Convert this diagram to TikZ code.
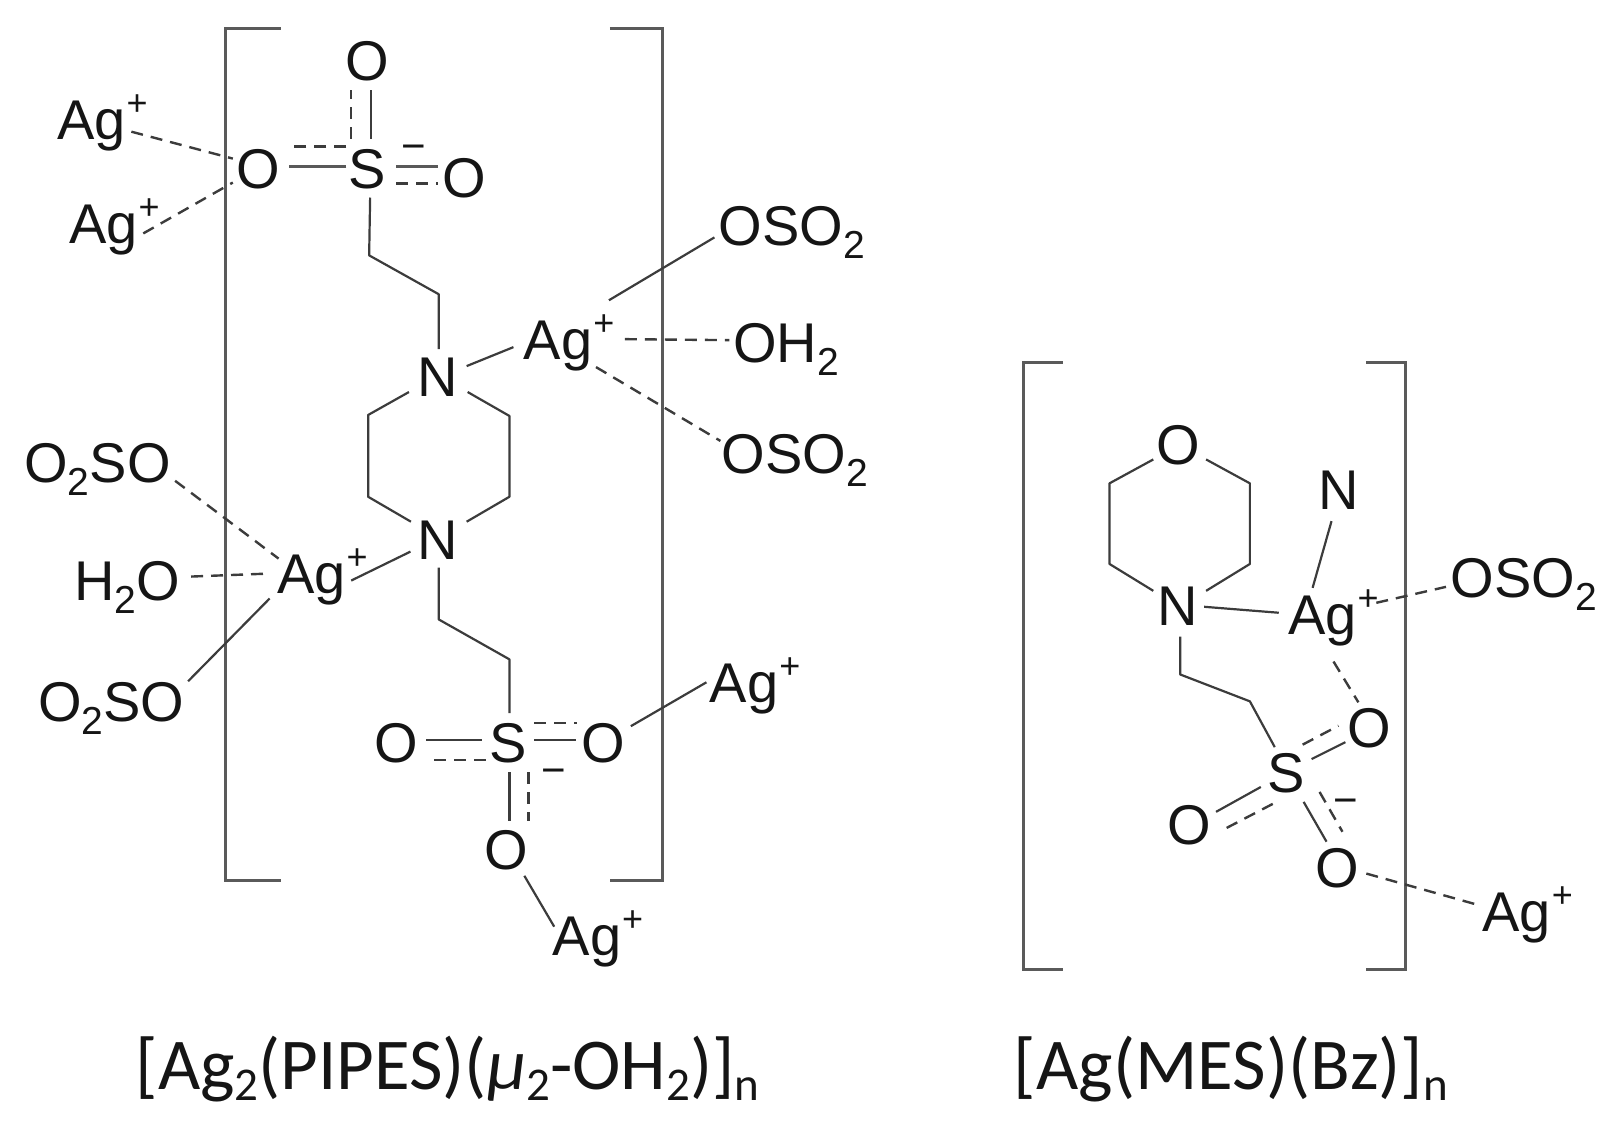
\documentclass[tikz,border=0pt]{standalone}
\usepackage{fontspec}
\usepackage{graphicx}
\setmainfont{Liberation Sans}
\newfontfamily\capfont{Carlito}
\usetikzlibrary{calc}
\definecolor{ink}{HTML}{151515}
\definecolor{bondc}{HTML}{3C3C3C}
\definecolor{brk}{HTML}{5A5A5A}
\newcommand\agp{Ag\kern1pt\raisebox{24pt}{\fontsize{36}{36}\selectfont +}}
\newcommand\sbs{\raisebox{-13pt}{\fontsize{39}{39}\selectfont 2}}
\newcommand\drp{2pt}
\newcommand\bend[3]{([shift={(#2,#3)},yshift=\drp]#1.base)}
\newcommand\bond[7]{\draw[#1] \bend{#2}{#3}{#4} -- \bend{#5}{#6}{#7};}
\newcommand\capsub[1]{\raisebox{-11pt}{\fontsize{47}{47}\selectfont #1}}
\tikzset{
  atom/.style={anchor=base,inner sep=0pt,outer sep=0pt,text=ink,font=\fontsize{56}{60}\selectfont,yshift=-\drp},
  charge/.style={anchor=base,inner sep=0pt,outer sep=0pt,text=ink,font=\fontsize{42}{42}\selectfont},
  caplabel/.style={anchor=base,inner sep=0pt,outer sep=0pt,text=ink,font=\capfont\fontsize{73}{76}\selectfont},
  sb/.style={draw=bondc,line width=2.2pt,line join=round},
  sbthick/.style={draw=bondc!85,line width=3.2pt},
  db/.style={draw=bondc,line width=2.4pt,dash pattern=on 12pt off 8pt},
  bracketline/.style={draw=brk,line width=3pt,line join=miter},
}
\begin{document}
\begin{tikzpicture}[x=1pt,y=-1pt]
\useasboundingbox (0,0) rectangle (1624,1128);
\begin{scope}[x=0.995pt,y=-0.9975pt]
% brackets
\draw[bracketline] (282,29) -- (227,29) -- (227,883) -- (282,883);
\draw[bracketline] (613,29) -- (666,29) -- (666,883) -- (613,883);
% left atoms
\node[atom] (otop) at (369,79) {O};
\node[atom] (oleft) at (260,187) {O};
\node[atom] (stop) at (369,187) {S};
\node[atom] (oright) at (467,196) {O};
\node[atom] (ag1) at (103,138) {\agp};
\node[atom] (ag2) at (115,242) {\agp};
\node[atom] (n1) at (440,395) {N};
\node[atom] (n2) at (440,559) {N};
\node[atom] (ag3) at (572,358) {\agp};
\node[atom] (oso2a) at (796,244) {OSO\sbs};
\node[atom] (oh2) at (790,361) {OH\sbs};
\node[atom] (oso2b) at (799,473) {OSO\sbs};
\node[atom] (o2soa) at (98,482) {O\sbs SO};
\node[atom] (h2o) at (128,600) {H\sbs O};
\node[atom] (o2sob) at (112,721) {O\sbs SO};
\node[atom] (ag4) at (324,593) {\agp};
\node[atom] (slow) at (511,762) {S};
\node[atom] (oleft2) at (398,762) {O};
\node[atom] (oright2) at (606,762) {O};
\node[atom] (obot) at (509,870) {O};
\node[atom] (ag5) at (759,702) {\agp};
\node[atom] (ag6) at (601,956) {\agp};
\node[charge] (m1) at (416,161) {−};
\node[charge] (m2) at (557,786) {−};
% left coordinates
\coordinate (c1) at (371,256);
\coordinate (c2) at (441,295);
\coordinate (c3) at (441,621);
\coordinate (c4) at (512,661);
\coordinate (r1) at (370,416);
\coordinate (r2) at (370,498);
\coordinate (r3) at (512,417);
\coordinate (r4) at (512,498);
% left bonds
\bond{sb}{stop}{4}{-48}{otop}{4}{11}
\bond{db}{stop}{-16}{-48}{otop}{-16}{11}
\bond{sbthick}{stop}{-21}{-20}{oleft}{30}{-20}
\bond{db}{stop}{-21}{-40}{oleft}{30}{-40}
\bond{sbthick}{stop}{29}{-20}{oright}{-27}{-29}
\bond{db}{stop}{29}{-3}{oright}{-27}{-12}
\bond{db}{ag1}{29}{-6}{oleft}{-26}{-28}
\bond{db}{ag2}{29}{-8}{oleft}{-26}{-4}
\draw[sb] \bend{stop}{3}{11} -- (c1) -- (c2) -- \bend{n1}{1}{-45};
\bond{sb}{n1}{29}{-28}{ag3}{-56}{-10}
\bond{sb}{ag3}{40}{-57}{oso2a}{-78}{-6}
\bond{db}{ag3}{56}{-18}{oh2}{-57}{-20}
\bond{db}{ag3}{27}{10}{oso2b}{-75}{-31}
\draw[sb] \bend{n1}{-29}{-2} -- (r1) -- (r2) -- \bend{n2}{-27}{-36};
\draw[sb] \bend{n1}{30}{-2} -- (r3) -- (r4) -- \bend{n2}{29}{-36};
\bond{sb}{n2}{-27.5}{-6}{ag4}{29}{-11}
\bond{db}{o2soa}{78}{0}{ag4}{-44}{-33}
\bond{db}{h2o}{64}{-22}{ag4}{-54}{-18}
\bond{sb}{o2sob}{77}{-38}{ag4}{-53}{7}
\draw[sb] \bend{n2}{1}{10} -- (c3) -- (c4) -- \bend{slow}{1}{-47};
\bond{sb}{slow}{-27}{-20}{oleft2}{30}{-20}
\bond{db}{slow}{-23}{0}{oleft2}{30}{0}
\bond{sb}{slow}{26}{-20}{oright2}{-27}{-20}
\bond{db}{slow}{26}{-37}{oright2}{-26}{-37}
\bond{sb}{slow}{1}{12}{obot}{3}{-47}
\bond{db}{slow}{20}{12}{obot}{22}{-47}
\bond{sb}{oright2}{28}{-34}{ag5}{-49}{-18}
\bond{sb}{obot}{18}{8}{ag6}{-44}{-27}
\end{scope}
\renewcommand\drp{1pt}
\begin{scope}[shift={(4.5pt,-1.5pt)},x=0.9955pt,y=-0.9955pt]
\draw[bracketline] (1063,363) -- (1024,363) -- (1024,972) -- (1063,972);
\draw[bracketline] (1368,363) -- (1407,363) -- (1407,972) -- (1368,972);
% right atoms
\node[atom] (otr) at (1179,464) {O};
\node[atom] (nr) at (1179,626) {N};
\node[atom] (ntr) at (1340,509) {N};
\node[atom] (agr) at (1335,635) {\agp};
\node[atom] (oso2r) at (1526,598) {OSO\sbs};
\node[atom] (sr) at (1287,794) {S};
\node[atom] (our) at (1371,748) {O};
\node[atom] (oll) at (1190,846) {O};
\node[atom] (obr) at (1339,889) {O};
\node[atom] (agb) at (1530,933) {\agp};
\node[charge] (m3) at (1347,817) {−};
\coordinate (c5) at (1181,676);
\coordinate (c6) at (1251,703);
\coordinate (r5) at (1110,484);
\coordinate (r6) at (1110,565);
\coordinate (r7) at (1251,484);
\coordinate (r8) at (1251,565);
% right bonds
\draw[sb] \bend{otr}{-25}{-4} -- (r5) -- (r6) -- \bend{nr}{-25}{-34};
\draw[sb] \bend{otr}{28}{-4} -- (r7) -- (r8) -- \bend{nr}{28}{-34};
\bond{sb}{ntr}{-7}{13}{agr}{-21}{-46}
\bond{sb}{nr}{26}{-18}{agr}{-55}{-21}
\bond{db}{agr}{43}{-31}{oso2r}{-78}{-10}
\draw[sb] \bend{nr}{2}{12} -- (c5) -- (c6) -- \bend{sr}{-11}{-45};
\bond{db}{agr}{0}{28}{our}{-11}{-44}
\bond{sb}{sr}{26}{-33}{our}{-24}{-4}
\bond{db}{sr}{17}{-47.5}{our}{-31}{-20.5}
\bond{sb}{sr}{-25}{-5}{oll}{27}{-32}
\bond{db}{sr}{-13}{12}{oll}{36}{-15}
\bond{sb}{sr}{18}{10}{obr}{-11}{-45}
\bond{db}{sr}{34}{0}{obr}{5}{-55}
\bond{db}{obr}{29}{-13}{agb}{-48}{-25}
\end{scope}
% captions
\node[caplabel] (capa) at (447.5,1089) {[Ag\capsub{2}(PIPES)({\itshape μ}\capsub{2}-OH\capsub{2})]\capsub{n}};
\node[caplabel] (capb) at (1231,1089) {[Ag(MES)(Bz)]\capsub{n}};
\end{tikzpicture}
\end{document}
